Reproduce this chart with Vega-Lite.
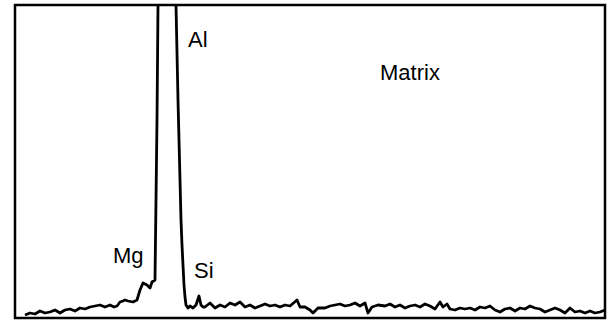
{
  "$schema": "https://vega.github.io/schema/vega-lite/v6.json",
  "width": 590,
  "height": 313,
  "autosize": {"type": "none"},
  "padding": {"left": 15, "top": 5, "right": 2, "bottom": 6},
  "background": "white",
  "config": {"view": {"stroke": "black", "strokeWidth": 2.5}},
  "datasets": {
    "spectrum": [
      {"ch": 10, "counts": 3}, {"ch": 15, "counts": 5}, {"ch": 20, "counts": 4}, {"ch": 25, "counts": 7},
      {"ch": 30, "counts": 5}, {"ch": 35, "counts": 6}, {"ch": 40, "counts": 8}, {"ch": 45, "counts": 5},
      {"ch": 50, "counts": 8}, {"ch": 55, "counts": 9}, {"ch": 60, "counts": 7}, {"ch": 65, "counts": 10},
      {"ch": 70, "counts": 9}, {"ch": 75, "counts": 11}, {"ch": 80, "counts": 12}, {"ch": 85, "counts": 13},
      {"ch": 90, "counts": 11}, {"ch": 95, "counts": 13}, {"ch": 99, "counts": 11}, {"ch": 102, "counts": 12},
      {"ch": 105, "counts": 16}, {"ch": 108, "counts": 17}, {"ch": 110, "counts": 18}, {"ch": 113, "counts": 17},
      {"ch": 118, "counts": 16}, {"ch": 122, "counts": 18}, {"ch": 125, "counts": 28}, {"ch": 128, "counts": 35},
      {"ch": 132, "counts": 33}, {"ch": 135, "counts": 30}, {"ch": 137, "counts": 36}, {"ch": 140, "counts": 38},
      {"ch": 141, "counts": 118}, {"ch": 142, "counts": 198}, {"ch": 143, "counts": 313}, {"ch": 152, "counts": 418},
      {"ch": 161, "counts": 313}, {"ch": 163, "counts": 218}, {"ch": 165, "counts": 138}, {"ch": 166, "counts": 98},
      {"ch": 167, "counts": 73}, {"ch": 168, "counts": 53}, {"ch": 169, "counts": 33}, {"ch": 170, "counts": 21},
      {"ch": 171, "counts": 13}, {"ch": 173, "counts": 10}, {"ch": 175, "counts": 12}, {"ch": 178, "counts": 10},
      {"ch": 181, "counts": 13}, {"ch": 184, "counts": 22}, {"ch": 186, "counts": 13}, {"ch": 188, "counts": 11},
      {"ch": 190, "counts": 11}, {"ch": 195, "counts": 15}, {"ch": 200, "counts": 10}, {"ch": 205, "counts": 13},
      {"ch": 210, "counts": 11}, {"ch": 215, "counts": 15}, {"ch": 220, "counts": 13}, {"ch": 225, "counts": 16},
      {"ch": 230, "counts": 11}, {"ch": 235, "counts": 13}, {"ch": 240, "counts": 10}, {"ch": 245, "counts": 12},
      {"ch": 250, "counts": 14}, {"ch": 255, "counts": 12}, {"ch": 260, "counts": 13}, {"ch": 265, "counts": 11},
      {"ch": 270, "counts": 13}, {"ch": 275, "counts": 12}, {"ch": 282, "counts": 18}, {"ch": 285, "counts": 11},
      {"ch": 290, "counts": 11}, {"ch": 295, "counts": 8}, {"ch": 298, "counts": 5}, {"ch": 303, "counts": 10},
      {"ch": 310, "counts": 10}, {"ch": 315, "counts": 12}, {"ch": 320, "counts": 13}, {"ch": 325, "counts": 14},
      {"ch": 330, "counts": 12}, {"ch": 335, "counts": 13}, {"ch": 340, "counts": 15}, {"ch": 345, "counts": 12},
      {"ch": 350, "counts": 15}, {"ch": 353, "counts": 5}, {"ch": 357, "counts": 11}, {"ch": 363, "counts": 13},
      {"ch": 370, "counts": 12}, {"ch": 375, "counts": 14}, {"ch": 380, "counts": 11}, {"ch": 385, "counts": 13},
      {"ch": 390, "counts": 10}, {"ch": 395, "counts": 12}, {"ch": 400, "counts": 13}, {"ch": 405, "counts": 11},
      {"ch": 410, "counts": 14}, {"ch": 415, "counts": 12}, {"ch": 420, "counts": 9}, {"ch": 425, "counts": 16},
      {"ch": 428, "counts": 11}, {"ch": 432, "counts": 14}, {"ch": 435, "counts": 9}, {"ch": 440, "counts": 8},
      {"ch": 445, "counts": 10}, {"ch": 450, "counts": 9}, {"ch": 455, "counts": 10}, {"ch": 460, "counts": 8},
      {"ch": 465, "counts": 11}, {"ch": 470, "counts": 10}, {"ch": 475, "counts": 12}, {"ch": 480, "counts": 8},
      {"ch": 485, "counts": 6}, {"ch": 490, "counts": 9}, {"ch": 495, "counts": 10}, {"ch": 500, "counts": 7},
      {"ch": 505, "counts": 10}, {"ch": 510, "counts": 9}, {"ch": 515, "counts": 12}, {"ch": 520, "counts": 10},
      {"ch": 525, "counts": 9}, {"ch": 530, "counts": 6}, {"ch": 535, "counts": 8}, {"ch": 540, "counts": 10},
      {"ch": 545, "counts": 8}, {"ch": 550, "counts": 5}, {"ch": 555, "counts": 10}, {"ch": 560, "counts": 6},
      {"ch": 565, "counts": 7}, {"ch": 570, "counts": 5}, {"ch": 575, "counts": 7}, {"ch": 580, "counts": 5},
      {"ch": 585, "counts": 6}, {"ch": 590, "counts": 8}
    ],
    "labels": [
      {"label": "Al", "ch": 173, "counts": 271},
      {"label": "Matrix", "ch": 365, "counts": 238},
      {"label": "Mg", "ch": 98, "counts": 55},
      {"label": "Si", "ch": 179, "counts": 40}
    ]
  },
  "layer": [
    {
      "data": {"name": "spectrum"},
      "mark": {"type": "line", "color": "black", "strokeWidth": 2.8, "clip": true, "strokeJoin": "round"},
      "encoding": {
        "x": {"field": "ch", "type": "quantitative", "scale": {"domain": [0, 590], "nice": false, "zero": false}, "axis": null},
        "y": {"field": "counts", "type": "quantitative", "scale": {"domain": [0, 313], "nice": false, "zero": false}, "axis": null}
      }
    },
    {
      "data": {"name": "labels"},
      "mark": {"type": "text", "align": "left", "baseline": "alphabetic", "font": "Liberation Sans", "fontSize": 22, "color": "black"},
      "encoding": {
        "x": {"field": "ch", "type": "quantitative"},
        "y": {"field": "counts", "type": "quantitative"},
        "text": {"field": "label", "type": "nominal"}
      }
    }
  ]
}
